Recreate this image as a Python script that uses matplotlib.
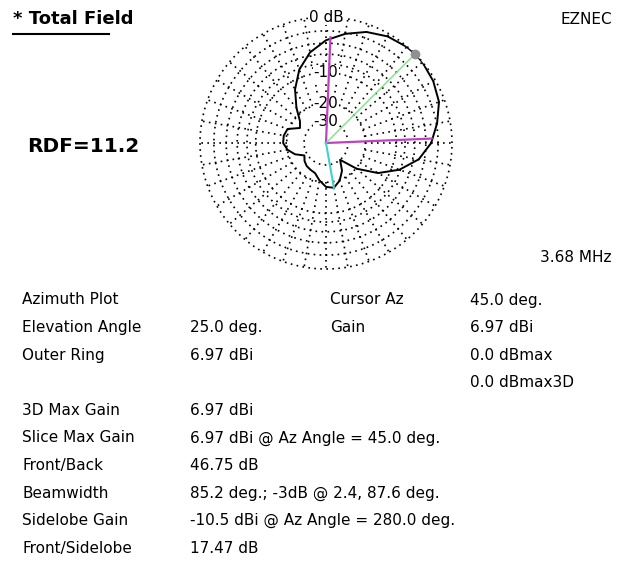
import matplotlib
matplotlib.use("Agg")
import matplotlib.pyplot as plt
import numpy as np

# Patron de azimut, dB relativos al maximo (0 grados = derecha, sentido antihorario)
az_deg = [0, 10, 20, 30, 40, 45, 50, 60, 70, 80, 90, 100, 110, 120, 130, 140, 150,
          160, 170, 180, 190, 200, 210, 220, 230, 240, 250, 260, 270, 280, 290,
          300, 310, 320, 330, 340, 350, 360]
gain_db = [-3.1, -1.9, -0.8, -0.3, -0.03, 0.0, -0.07, -0.4, -1.1, -2.2, -3.5, -5.4, -8.2,
           -12.2, -17.3, -22.5, -24.6, -19.3, -18.5, -18.5, -20.1, -23.0, -27.8, -25.8,
           -24.6, -24.1, -23.5, -20.6, -18.1, -17.5, -19.7, -23.5, -30.0, -19.7, -12.7,
           -8.2, -5.0, -3.1]

ring_db = [0, -2, -4, -6, -8, -10, -20, -30]
ring_labels = [(-10, "-10"), (-20, "-20"), (-30, "-30")]
bw_az = [2.4, 87.6]
bw_db = -3.0
cursor_az = 45.0
cursor_db = 0.0
sidelobe_az = 280.0
sidelobe_db = -17.47

left_labels = ["Azimuth Plot", "Elevation Angle", "Outer Ring", "", "3D Max Gain",
               "Slice Max Gain", "Front/Back", "Beamwidth", "Sidelobe Gain", "Front/Sidelobe"]
left_values = ["", "25.0 deg.", "6.97 dBi", "", "6.97 dBi",
               "6.97 dBi @ Az Angle = 45.0 deg.", "46.75 dB",
               "85.2 deg.; -3dB @ 2.4, 87.6 deg.", "-10.5 dBi @ Az Angle = 280.0 deg.",
               "17.47 dB"]
right_labels = ["Cursor Az", "Gain", "", ""]
right_values = ["45.0 deg.", "6.97 dBi", "0.0 dBmax", "0.0 dBmax3D"]


def arrl(db):
    # escala logaritmica ARRL: cada 2 dB el radio se multiplica por 0.89
    return 0.89 ** (-np.asarray(db, dtype=float) / 2.0)


W, H = 629, 563
fig = plt.figure(figsize=(W / 100, H / 100), dpi=100)


def px(x, y):
    return x / W, 1 - y / H


# ejes polares: centro (326, 143), radio 126 px
cx, cy, R = 326, 143, 126
ax = fig.add_axes([(cx - R) / W, 1 - (cy + R) / H, 2 * R / W, 2 * R / H], projection="polar")
ax.set_ylim(0, 1)
ax.axis("off")

dotted = (0, (1, 2.6))
th = np.linspace(0, 2 * np.pi, 721)
for db in ring_db:
    ax.plot(th, np.full_like(th, arrl(db)), ls=dotted, color="black", lw=1.2, zorder=1, clip_on=False)
for a in range(0, 360, 10):
    ax.plot([np.radians(a)] * 2, [arrl(-20), 1.0], ls=dotted, color="black", lw=1.2, zorder=1)

for db, txt in ring_labels:
    ax.text(np.pi / 2, arrl(db), txt, ha="center", va="center", fontsize=11, zorder=2,
            bbox=dict(fc="white", ec="none", pad=0.3))
ax.text(np.pi / 2, 1.0, "0 dB", ha="center", va="center", fontsize=11, zorder=2,
        clip_on=False, bbox=dict(fc="white", ec="none", pad=0.3))

ax.plot(np.radians(az_deg), arrl(gain_db), color="black", lw=1.4, zorder=3)

for a in bw_az:
    ax.plot([np.radians(a)] * 2, [0, arrl(bw_db)], color="#c040c0", lw=1.6, zorder=4)
ax.plot([np.radians(cursor_az)] * 2, [0, arrl(cursor_db)], color="#80e080", lw=1.0, zorder=4)
ax.plot([np.radians(cursor_az)], [arrl(cursor_db)], "o", color="#909090", ms=6, zorder=5, clip_on=False)
ax.plot([np.radians(sidelobe_az)] * 2, [0, arrl(sidelobe_db)], color="#40d0d0", lw=1.5, zorder=4)

# textos de cabecera
fig.text(*px(13, 19), "* Total Field", fontsize=13, fontweight="bold", ha="left", va="center")
fig.add_artist(plt.Line2D([13 / W, 109 / W], [1 - 34 / H] * 2, color="black", lw=1.5))
fig.text(*px(27, 147), "RDF=11.2", fontsize=14.5, fontweight="bold", ha="left", va="center")
fig.text(*px(612, 19), "EZNEC", fontsize=11, ha="right", va="center")
fig.text(*px(611, 257), "3.68 MHz", fontsize=11, ha="right", va="center")

# tabla de resultados
y0, dy = 300, 27.6
for i, (lab, val) in enumerate(zip(left_labels, left_values)):
    y = y0 + i * dy
    fig.text(*px(22, y), lab, fontsize=11, ha="left", va="center")
    fig.text(*px(190, y), val, fontsize=11, ha="left", va="center")
for i, (lab, val) in enumerate(zip(right_labels, right_values)):
    y = y0 + i * dy
    fig.text(*px(330, y), lab, fontsize=11, ha="left", va="center")
    fig.text(*px(470, y), val, fontsize=11, ha="left", va="center")

fig.savefig("out.png", dpi=100)
